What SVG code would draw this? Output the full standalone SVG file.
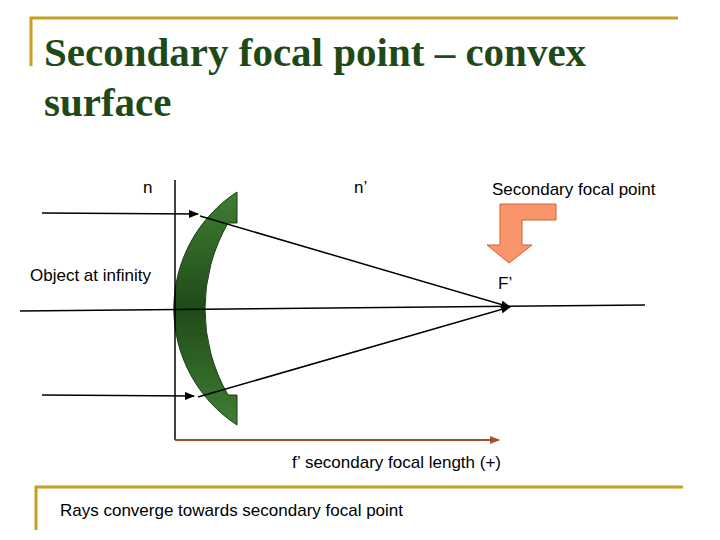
<svg xmlns="http://www.w3.org/2000/svg" width="720" height="540" viewBox="0 0 720 540">
<defs>
<linearGradient id="g" x1="0" y1="0" x2="0" y2="1"><stop offset="0" stop-color="#3f7f32"/><stop offset="0.5" stop-color="#1f4a18"/><stop offset="1" stop-color="#3f7f32"/></linearGradient>
<marker id="a" markerWidth="10" markerHeight="8" refX="9" refY="4" orient="auto" markerUnits="userSpaceOnUse"><path d="M0,0 L10,4 L0,8 Z" fill="#000"/></marker>
<marker id="b" markerWidth="10" markerHeight="8" refX="9" refY="4" orient="auto" markerUnits="userSpaceOnUse"><path d="M0,0 L10,4 L0,8 Z" fill="#a0522d"/></marker>
</defs>
<style>
text{font-family:"Liberation Sans",Arial,sans-serif;font-size:17px;fill:#000}
.t{font-family:"Liberation Serif","Times New Roman",serif;font-size:41px;font-weight:bold;fill:#1f4a18}
.gold{stroke:#c8a020;stroke-width:3;fill:none}
.ln{stroke:#000;stroke-width:1.5;fill:none}
</style>
<rect width="720" height="540" fill="#fff"/>
<path class="gold" d="M31,66 V18 H678"/>
<path class="gold" d="M36,530 V487 H683"/>
<text class="t" x="44" y="66">Secondary focal point – convex</text>
<text class="t" x="44" y="116">surface</text>
<g id="lens"><path d="M237,192 A139,139 0 0 0 237,425 V395 H228 A172,172 0 0 1 228,223 H237 Z" fill="url(#g)" stroke="#1a3a14" stroke-width="1"/></g>
<g id="orange"><path d="M556,204 H500 V245 H487 L509,263 L532,245 H522 V220 H556 Z" fill="#f9956a" stroke="#d06030" stroke-width="1"/></g>
<g id="connectors">
<line class="ln" x1="175" y1="180" x2="175" y2="440" stroke-width="1"/>
<line class="ln" x1="20" y1="311" x2="645" y2="305" stroke-width="1"/>
<line class="ln" x1="42" y1="213" x2="198" y2="214" marker-end="url(#a)"/>
<line class="ln" x1="42" y1="395" x2="194" y2="396" marker-end="url(#a)"/>
<line class="ln" x1="200" y1="216" x2="510" y2="307" marker-end="url(#a)"/>
<line class="ln" x1="198" y1="397" x2="510" y2="307" marker-end="url(#a)"/>
<line x1="175" y1="440" x2="499" y2="440" stroke="#a0522d" stroke-width="2" marker-end="url(#b)"/>
</g>
<text x="143" y="193">n</text>
<text x="354" y="193">n’</text>
<text x="492" y="195">Secondary focal point</text>
<text x="30" y="281">Object at infinity</text>
<text x="498" y="289">F’</text>
<text x="292" y="468">f’ secondary focal length  (+)</text>
<text x="60" y="516">Rays converge towards secondary focal point</text>
</svg>
